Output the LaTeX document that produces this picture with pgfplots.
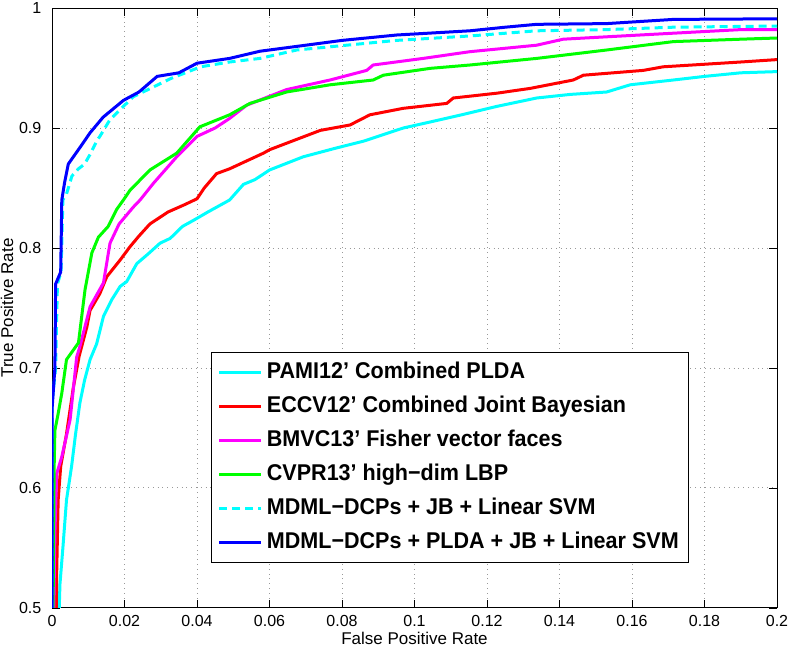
\documentclass[border=0pt]{standalone}
\usepackage{pgfplots}
\pgfplotsset{compat=1.18}
\usepackage{fontspec}
\setmainfont{Liberation Sans}
\newfontfamily\legfont{Liberation Sans}[FakeStretch=0.945]
\definecolor{mcyan}{rgb}{0,1,1}
\definecolor{mred}{rgb}{1,0,0}
\definecolor{mmag}{rgb}{1,0,1}
\definecolor{mgreen}{rgb}{0,1,0}
\definecolor{mblue}{rgb}{0,0,1}
\begin{document}
\begin{tikzpicture}
\useasboundingbox (-26pt,-20pt) rectangle (368pt,304pt);
\begin{axis}[
  at={(0,0)}, anchor=south west,
  scale only axis, width=362.5pt, height=300pt,
  xmin=0, xmax=0.2, ymin=0.5, ymax=1,
  xtick={0,0.02,0.04,0.06,0.08,0.1,0.12,0.14,0.16,0.18,0.2},
  xticklabels={0,0.02,0.04,0.06,0.08,0.1,0.12,0.14,0.16,0.18,0.2},
  ytick={0.5,0.6,0.7,0.8,0.9,1},
  yticklabels={0.5,0.6,0.7,0.8,0.9,1},
  tick align=inside, major tick length=4pt,
  tick style={black, line width=0.4pt},
  axis line style={black, line width=0.5pt},
  grid=major, major grid style={dotted, gray!80, line width=0.5pt},
  ticklabel style={font=\fontsize{8}{9}\selectfont},
  yticklabel style={xshift=-1.8pt},
  label style={font=\fontsize{8.5}{9.5}\selectfont},
  xlabel={False Positive Rate},
  ylabel={True Positive Rate},
  xlabel style={at={(axis description cs:0.5,-0.05)}, anchor=center},
  ylabel style={at={(axis description cs:-0.062,0.5)}, anchor=center},
  legend cell align=left,
  legend style={at={(axis description cs:0.879,0.075)}, anchor=south east,
    font=\legfont\fontsize{11.4}{13}\selectfont\bfseries, draw=black, line width=0.5pt,
    inner xsep=3pt, inner ysep=2.5pt, row sep=2pt,
    nodes={inner sep=2pt, text height=8.5pt, text depth=2.5pt}},
  legend image code/.code={\draw[#1] (0pt,0pt) -- (21pt,0pt);},
  every axis plot/.append style={line width=1.5pt},
]
\addplot[mcyan] coordinates {
(0.0020,0.50)(0.0022,0.52)(0.0030,0.55)(0.0040,0.59)(0.0054,0.618)(0.0065,0.645)(0.0077,0.671)(0.0090,0.69)(0.0105,0.707)(0.0123,0.72)(0.0142,0.743)(0.0165,0.757)(0.0188,0.768)(0.0206,0.772)(0.0234,0.787)(0.0265,0.795)(0.0298,0.804)(0.0326,0.808)(0.0360,0.818)(0.039,0.823)(0.0430,0.830)(0.049,0.840)(0.0528,0.853)(0.0560,0.857)(0.060,0.865)(0.0693,0.876)(0.078,0.883)(0.0859,0.889)(0.0969,0.900)(0.1043,0.905)(0.1130,0.911)(0.1227,0.918)(0.1337,0.925)(0.1430,0.928)(0.153,0.930)(0.1595,0.936)(0.1714,0.940)(0.180,0.943)(0.19,0.946)(0.2,0.947)};
\addlegendentry{PAMI12’ Combined PLDA}
\addplot[mred] coordinates {
(0.0012,0.50)(0.0013,0.53)(0.0017,0.59)(0.0024,0.618)(0.0040,0.645)(0.0059,0.684)(0.0075,0.71)(0.0096,0.734)(0.0105,0.748)(0.0132,0.762)(0.0151,0.776)(0.0188,0.790)(0.0215,0.801)(0.0240,0.81)(0.027,0.820)(0.032,0.83)(0.0365,0.836)(0.040,0.841)(0.042,0.85)(0.0454,0.862)(0.049,0.866)(0.0583,0.879)(0.0601,0.882)(0.074,0.898)(0.0822,0.9025)(0.0877,0.911)(0.0969,0.9164)(0.1089,0.9205)(0.1107,0.925)(0.1227,0.929)(0.1319,0.933)(0.1438,0.940)(0.1466,0.944)(0.1631,0.948)(0.1686,0.951)(0.19,0.955)(0.2,0.957)};
\addlegendentry{ECCV12’ Combined Joint Bayesian}
\addplot[mmag] coordinates {
(0.0005,0.50)(0.0008,0.5625)(0.0013,0.612)(0.0027,0.626)(0.005,0.657)(0.0068,0.709)(0.0077,0.718)(0.0105,0.751)(0.0142,0.771)(0.016,0.804)(0.0185,0.82)(0.0224,0.834)(0.0243,0.84)(0.028,0.854)(0.0344,0.876)(0.040,0.893)(0.045,0.90)(0.049,0.908)(0.0537,0.919)(0.0647,0.932)(0.0767,0.940)(0.0868,0.948)(0.0886,0.9525)(0.1024,0.958)(0.1153,0.9636)(0.1337,0.969)(0.141,0.974)(0.153,0.976)(0.1714,0.979)(0.19,0.982)(0.2,0.982)};
\addlegendentry{BMVC13’ Fisher vector faces}
\addplot[mgreen] coordinates {
(0.0003,0.50)(0.0006,0.618)(0.0008,0.648)(0.0017,0.662)(0.0027,0.679)(0.004,0.707)(0.0059,0.715)(0.0073,0.721)(0.0082,0.743)(0.0091,0.765)(0.011,0.796)(0.0128,0.809)(0.0155,0.818)(0.0178,0.832)(0.0197,0.84)(0.0215,0.848)(0.027,0.865)(0.0344,0.879)(0.0408,0.901)(0.049,0.911)(0.0546,0.9205)(0.0647,0.930)(0.0767,0.936)(0.0886,0.940)(0.0914,0.944)(0.1043,0.9497)(0.1153,0.9525)(0.1337,0.958)(0.153,0.965)(0.1714,0.972)(0.19,0.974)(0.2,0.975)};
\addlegendentry{CVPR13’ high−dim LBP}
\addplot[mcyan, dash pattern=on 4pt off 2.5pt] coordinates {
(0,0.5)(0,0.67)(0.001,0.70)(0.0015,0.77)(0.0025,0.78)(0.003,0.84)(0.004,0.845)(0.0055,0.86)(0.0073,0.866)(0.009,0.87)(0.0105,0.878)(0.0125,0.89)(0.0132,0.893)(0.016,0.907)(0.0224,0.926)(0.0326,0.941)(0.041,0.951)(0.049,0.955)(0.0574,0.958)(0.0675,0.965)(0.095,0.973)(0.1153,0.9767)(0.1337,0.981)(0.153,0.982)(0.1714,0.984)(0.2,0.985)};
\addlegendentry{MDML−DCPs + JB + Linear SVM}
\addplot[mblue] coordinates {
(0,0.5)(0,0.665)(0.0008,0.70)(0.001,0.77)(0.0024,0.78)(0.0027,0.84)(0.0035,0.855)(0.0045,0.87)(0.0059,0.876)(0.008,0.885)(0.0105,0.896)(0.0141,0.909)(0.0197,0.923)(0.024,0.93)(0.029,0.943)(0.035,0.946)(0.040,0.954)(0.049,0.958)(0.0574,0.964)(0.0675,0.968)(0.08,0.973)(0.0951,0.9775)(0.1153,0.981)(0.125,0.984)(0.1337,0.9864)(0.153,0.987)(0.1714,0.9905)(0.2,0.991)};
\addlegendentry{MDML−DCPs + PLDA + JB + Linear SVM}
\end{axis}
\end{tikzpicture}
\end{document}
